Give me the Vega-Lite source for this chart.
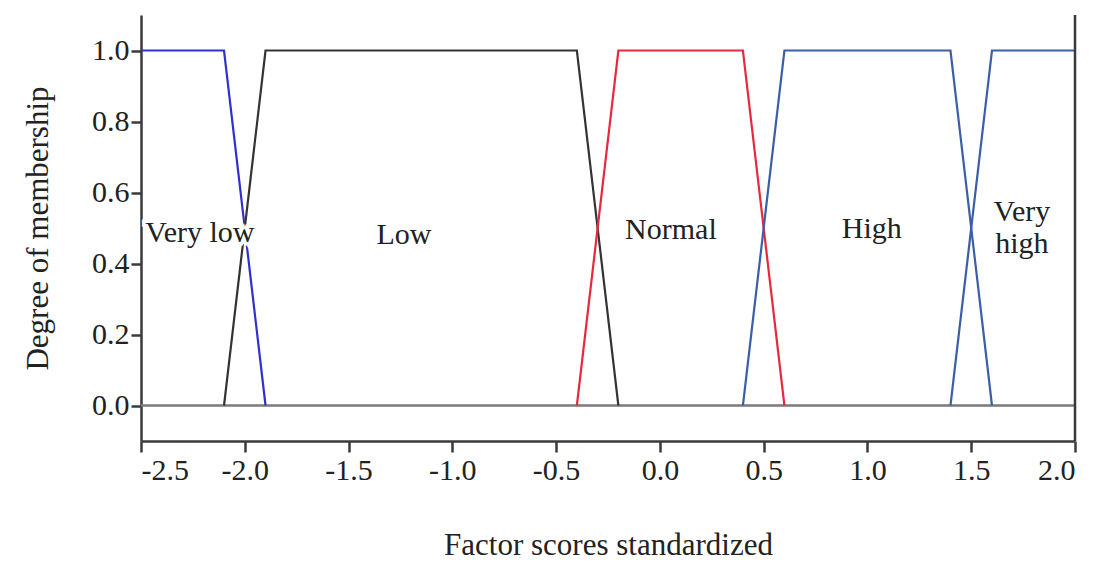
{
  "$schema": "https://vega.github.io/schema/vega-lite/v6.json",
  "width": 934,
  "height": 426,
  "autosize": "none",
  "padding": {"left": 141, "top": 15, "right": 25, "bottom": 123},
  "background": "white",
  "config": {
    "view": {"stroke": null},
    "font": "Liberation Serif",
    "axis": {
      "labelFont": "Liberation Serif",
      "titleFont": "Liberation Serif",
      "labelFontSize": 30,
      "titleFontSize": 31,
      "titleFontWeight": "normal",
      "labelColor": "#222",
      "titleColor": "#222",
      "domainColor": "#3a3a3a",
      "domainWidth": 2.5,
      "tickColor": "#3a3a3a",
      "tickWidth": 2.5,
      "grid": false
    }
  },
  "datasets": {
    "lines": [
      {"series": "Very low", "x": -2.5, "y": 1, "o": 1},
      {"series": "Very low", "x": -2.1, "y": 1, "o": 2},
      {"series": "Very low", "x": -1.9, "y": 0, "o": 3},
      {"series": "Low", "x": -2.1, "y": 0, "o": 1},
      {"series": "Low", "x": -1.9, "y": 1, "o": 2},
      {"series": "Low", "x": -0.4, "y": 1, "o": 3},
      {"series": "Low", "x": -0.2, "y": 0, "o": 4},
      {"series": "Normal", "x": -0.4, "y": 0, "o": 1},
      {"series": "Normal", "x": -0.2, "y": 1, "o": 2},
      {"series": "Normal", "x": 0.4, "y": 1, "o": 3},
      {"series": "Normal", "x": 0.6, "y": 0, "o": 4},
      {"series": "High", "x": 0.4, "y": 0, "o": 1},
      {"series": "High", "x": 0.6, "y": 1, "o": 2},
      {"series": "High", "x": 1.4, "y": 1, "o": 3},
      {"series": "High", "x": 1.6, "y": 0, "o": 4},
      {"series": "Very high", "x": 1.4, "y": 0, "o": 1},
      {"series": "Very high", "x": 1.6, "y": 1, "o": 2},
      {"series": "Very high", "x": 2.0, "y": 1, "o": 3}
    ],
    "labels": [
      {"label": "Very low", "x": -2.216, "y": 0.487},
      {"label": "Low", "x": -1.233, "y": 0.479},
      {"label": "Normal", "x": 0.053, "y": 0.493},
      {"label": "High", "x": 1.021, "y": 0.496},
      {"label": "Very\nhigh", "x": 1.744, "y": 0.546}
    ]
  },
  "layer": [
    {
      "data": {"values": [{}]},
      "mark": {"type": "rule", "color": "#7a7a7a", "strokeWidth": 2.5},
      "encoding": {"y": {"datum": 0, "type": "quantitative", "scale": {"domain": [-0.1, 1.1], "nice": false, "zero": false}}}
    },
    {
      "data": {"name": "lines"},
      "mark": {"type": "line", "strokeWidth": 2.2},
      "encoding": {
        "x": {
          "field": "x",
          "type": "quantitative",
          "scale": {"domain": [-2.5, 2.0], "nice": false, "zero": false},
          "axis": {
            "title": "Factor scores standardized",
            "values": [-2.5, -2.0, -1.5, -1.0, -0.5, 0.0, 0.5, 1.0, 1.5, 2.0],
            "labelExpr": "replace(format(datum.value, '.1f'), '\u2212', '-')",
            "tickSize": 11,
            "labelPadding": 3,
            "titlePadding": 45
          }
        },
        "y": {
          "field": "y",
          "type": "quantitative",
          "scale": {"domain": [-0.1, 1.1], "nice": false, "zero": false},
          "axis": {
            "title": "Degree of membership",
            "values": [0, 0.2, 0.4, 0.6, 0.8, 1.0],
            "format": ".1f",
            "tickSize": 10,
            "labelPadding": 2,
            "titlePadding": 37
          }
        },
        "order": {"field": "o", "type": "quantitative"},
        "color": {
          "field": "series",
          "type": "nominal",
          "scale": {
            "domain": ["Very low", "Low", "Normal", "High", "Very high"],
            "range": ["#3030cc", "#333333", "#e8283c", "#3b5ea8", "#3b5ea8"]
          },
          "legend": null
        }
      }
    },
    {
      "data": {"values": [{}]},
      "mark": {"type": "rule", "color": "#3a3a3a", "strokeWidth": 2.5},
      "encoding": {"x": {"datum": 2.0, "type": "quantitative"}}
    },
    {
      "data": {"name": "labels"},
      "mark": {"type": "text", "fontSize": 30, "font": "Liberation Serif", "stroke": "white", "strokeWidth": 7, "fill": "white", "lineBreak": "\n", "lineHeight": 32},
      "encoding": {
        "x": {"field": "x", "type": "quantitative"},
        "y": {"field": "y", "type": "quantitative"},
        "text": {"field": "label"}
      }
    },
    {
      "data": {"name": "labels"},
      "mark": {"type": "text", "fontSize": 30, "font": "Liberation Serif", "color": "#222", "lineBreak": "\n", "lineHeight": 32},
      "encoding": {
        "x": {"field": "x", "type": "quantitative"},
        "y": {"field": "y", "type": "quantitative"},
        "text": {"field": "label"}
      }
    }
  ]
}
